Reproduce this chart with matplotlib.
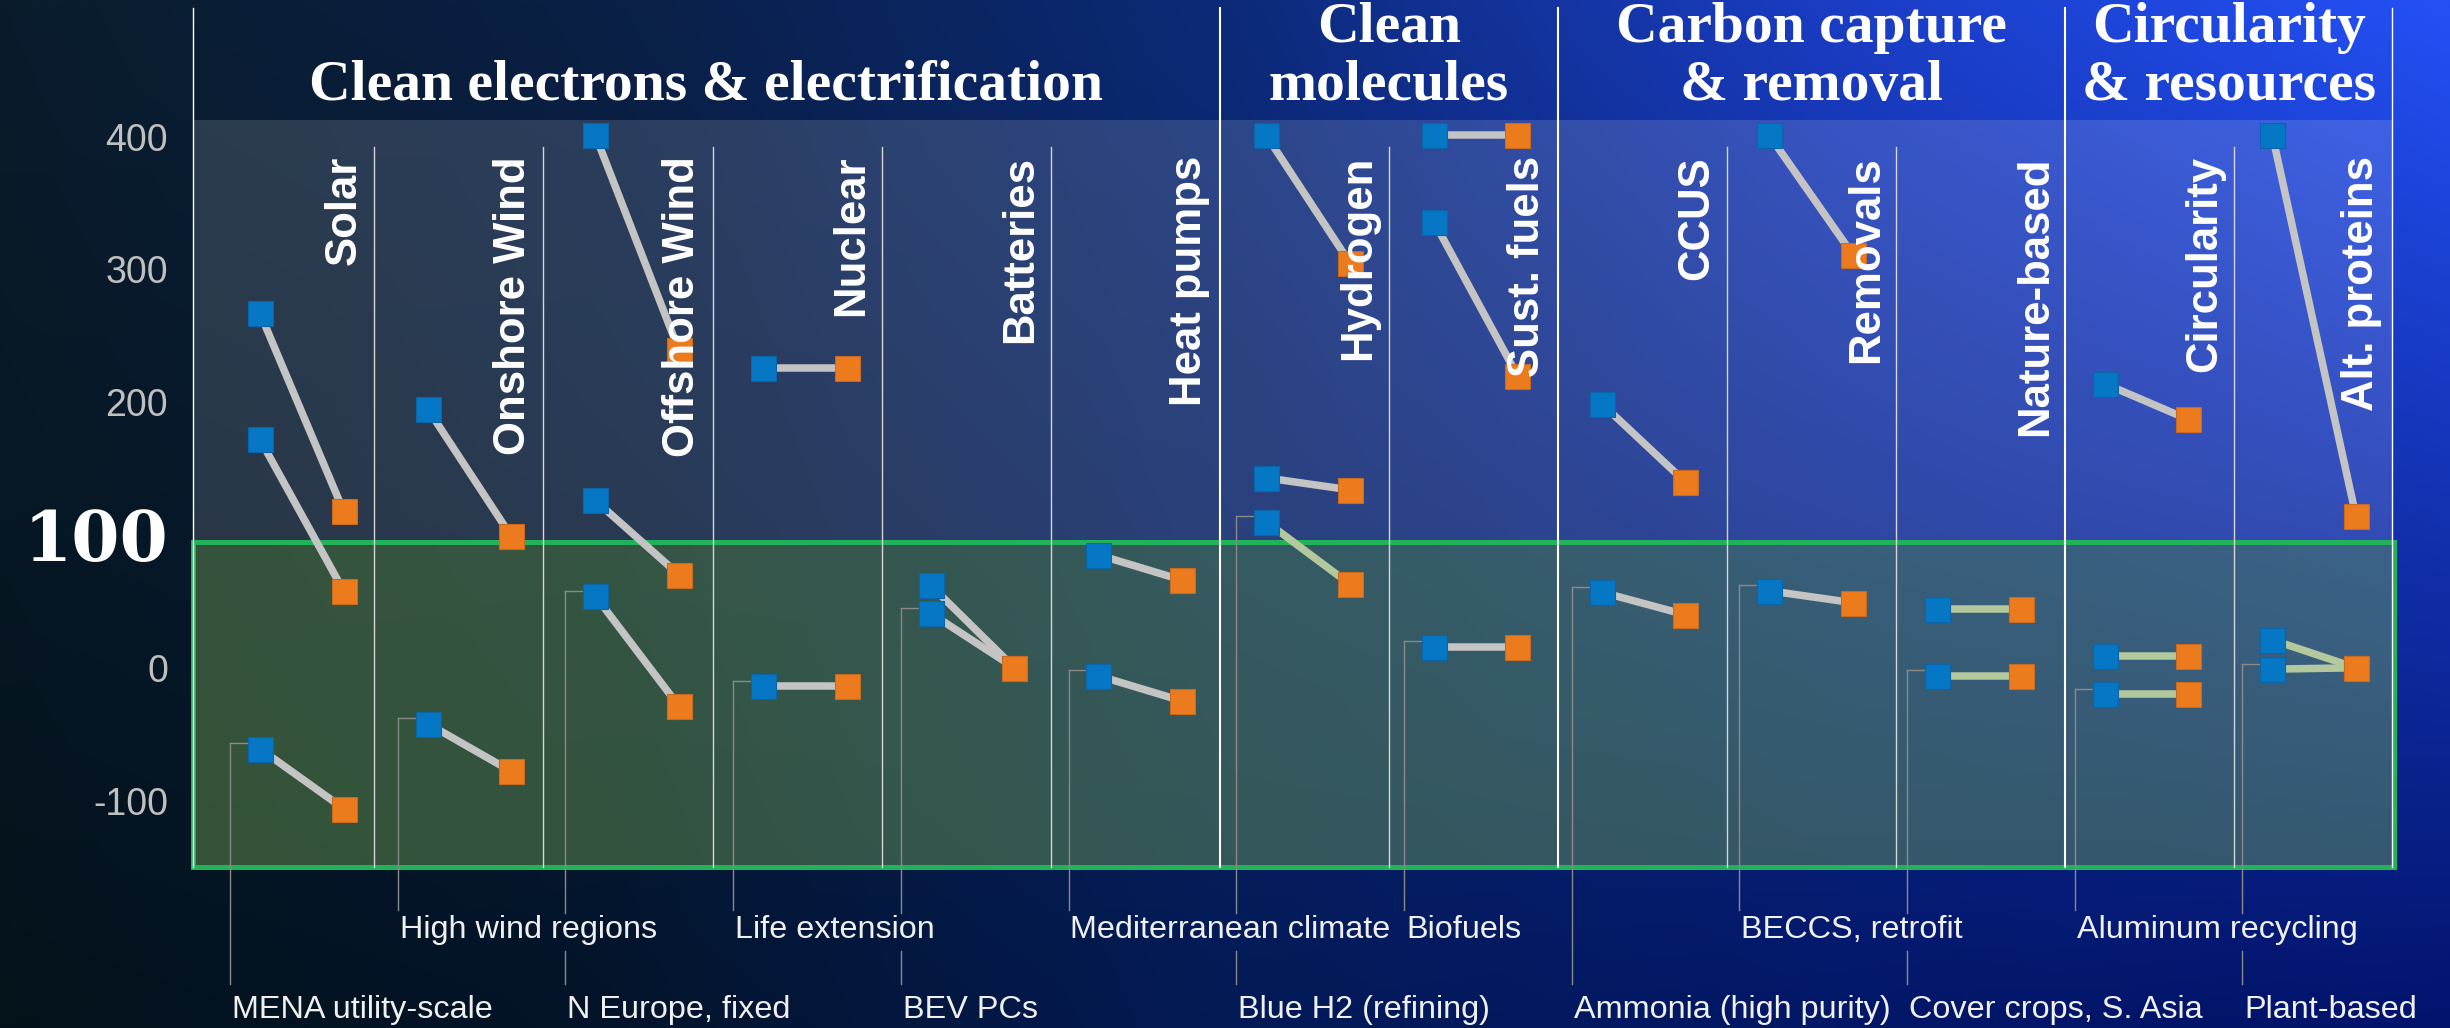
import numpy as np
import matplotlib
matplotlib.use("Agg")
import matplotlib.pyplot as plt
from matplotlib.patches import Rectangle
from matplotlib.transforms import blended_transform_factory
from matplotlib.colors import to_rgb

# ---------------- data ----------------
categories = ["Clean electrons & electrification", "Clean\nmolecules",
              "Carbon capture\n& removal", "Circularity\n& resources"]
category_sizes = [6, 2, 3, 2]
technologies = ["Solar", "Onshore Wind", "Offshore Wind", "Nuclear", "Batteries",
                "Heat pumps", "Hydrogen", "Sust. fuels", "CCUS", "Removals",
                "Nature-based", "Circularity", "Alt. proteins"]
start_values = [[267, 172, -61], [195, -42], [401, 126, 54], [226, -14], [62, 41],
                [85, -6], [401, 143, 110], [401, 336, 16], [199, 57], [401, 58],
                [44, -6], [214, 9, -20], [401, 21, -1]]
end_values = [[118, 58, -106], [99, -78], [239, 70, -29], [226, -14], [0, 0],
              [66, -25], [305, 134, 63], [401, 220, 16], [140, 40], [311, 49],
              [44, -6], [187, 9, -20], [114, 0, 0]]
example_labels = ["MENA utility-scale", "High wind regions", "N Europe, fixed",
                  "Life extension", "BEV PCs", "Mediterranean climate",
                  "Blue H2 (refining)", "Biofuels", "Ammonia (high purity)",
                  "BECCS, retrofit", "Cover crops, S. Asia", "Aluminum recycling",
                  "Plant-based"]
example_series = [2, 1, 2, 1, 1, 1, 2, 2, 1, 1, 1, 2, 2]
y_ticks = [-100, 0, 100, 200, 300, 400]
y_tick_labels = ["-100", "0", "100", "200", "300", "400"]
y_min, y_max = -150, 412.5
zone_low, zone_high = -150, 95

# ---------------- style / layout ----------------
W, H, DPI = 2450, 1028, 100
AX_L, AX_R, AX_T, AX_B = 193, 2392, 120, 867
FIRST_BLUE, PANEL_PX, PAIR_PX = 260.0, 167.7, 83.6
SEP0, SEP_STEP = 374.3, 169.1
BLUE, ORANGE = "#0577c5", "#ec7b1e"
LINK_GRAY, LINK_GREEN = "#c4c4c4", "#b3c89c"
green_links = {(6, 2), (10, 0), (10, 1), (11, 1), (11, 2), (12, 1), (12, 2)}

def xd(px):
    return (px - FIRST_BLUE) / PANEL_PX

def yd(px):
    return y_min + (AX_B - px) / (AX_B - AX_T) * (y_max - y_min)

def fy(px):
    return 1 - px / H

fig = plt.figure(figsize=(W / DPI, H / DPI), dpi=DPI)

# background gradient
bg = fig.add_axes([0, 0, 1, 1], zorder=0)
bg.set_axis_off()
xs = np.array([0, 0.25, 0.5, 0.75, 1.0])
top = np.array([to_rgb(c) for c in ["#0a1c2c", "#0a2046", "#0c2a78", "#1a3dc4", "#2450f6"]])
bot = np.array([to_rgb(c) for c in ["#04121a", "#03142a", "#031a55", "#021766", "#02136c"]])
gx = np.linspace(0, 1, 400)
gy = np.linspace(0, 1, 200)[:, None, None]
top_row = np.stack([np.interp(gx, xs, top[:, k]) for k in range(3)], axis=-1)[None]
bot_row = np.stack([np.interp(gx, xs, bot[:, k]) for k in range(3)], axis=-1)[None]
img = top_row * (1 - gy) + bot_row * gy
bg.imshow(img, aspect="auto", extent=[0, 1, 0, 1], origin="upper", interpolation="bilinear")
bg.set_xlim(0, 1)
bg.set_ylim(0, 1)

ax = fig.add_axes([AX_L / W, 1 - AX_B / H, (AX_R - AX_L) / W, (AX_B - AX_T) / H], zorder=1)
ax.set_facecolor((1, 1, 1, 0.14))
ax.set_xlim(xd(AX_L), xd(AX_R))
ax.set_ylim(y_min, y_max)
for s in ax.spines.values():
    s.set_visible(False)
ax.set_xticks([])
ax.set_yticks(y_ticks, y_tick_labels)
ax.tick_params(axis="y", length=0, pad=18, labelsize=27, labelcolor="#c0c0c0")
for lab in ax.get_yticklabels():
    lab.set_fontfamily("Liberation Sans")
    if lab.get_text() == "100":
        lab.set_fontfamily("DejaVu Serif")
        lab.set_fontweight("bold")
        lab.set_fontsize(50)
        lab.set_color("white")

tr_fig = blended_transform_factory(ax.transData, fig.transFigure)

# green zone
zone = Rectangle((xd(AX_L), zone_low), xd(AX_R + 2) - xd(AX_L), zone_high - zone_low,
                 facecolor=(81 / 255, 151 / 255, 35 / 255, 0.30), edgecolor="#22b35a",
                 lw=3.6, zorder=1.5, clip_on=False)
ax.add_patch(zone)

# separators
seps = [SEP0 + SEP_STEP * k for k in range(12)]
cat_bounds_idx = np.cumsum(category_sizes)[:-1] - 1
for k, sx in enumerate(seps):
    if k in cat_bounds_idx:
        ax.plot([xd(sx)] * 2, [yd(867), yd(8)], color="white", lw=1.5, zorder=2, clip_on=False)
    else:
        ax.plot([xd(sx)] * 2, [yd(867), yd(147)], color="#d6d6d6", lw=1.0, zorder=2, clip_on=False)
for ex in (AX_L, AX_R):
    ax.plot([xd(ex)] * 2, [yd(867), yd(8)], color="white", lw=1.0, zorder=2, clip_on=False)

# links and markers
gap = PAIR_PX / PANEL_PX
for i, (sv, ev) in enumerate(zip(start_values, end_values)):
    for k, (s, e) in enumerate(zip(sv, ev)):
        col = LINK_GREEN if (i, k) in green_links else LINK_GRAY
        ax.plot([i, i + gap], [s, e], color=col, lw=5.4, solid_capstyle="butt", zorder=3)
    for k, (s, e) in enumerate(zip(sv, ev)):
        ax.plot([i], [s], "s", ms=18, mfc=BLUE, mec="#0a66a8", mew=0.8, zorder=4, clip_on=False)
        ax.plot([i + gap], [e], "s", ms=18, mfc=ORANGE, mec="#c86a20", mew=0.8, zorder=4, clip_on=False)

# technology labels (rotated)
rights = seps + [AX_R]
for i, name in enumerate(technologies):
    ax.text(xd(rights[i] - 30), yd(156), name, rotation=90, ha="center", va="top",
            fontsize=31.5, fontweight="bold", color="white", family="Liberation Sans",
            zorder=6, clip_on=False)

# category headers
bounds = [AX_L] + [seps[j] for j in cat_bounds_idx] + [AX_R]
for c, name in enumerate(categories):
    cx = xd((bounds[c] + bounds[c + 1]) / 2)
    for j, line in enumerate(reversed(name.split("\n"))):
        ax.text(cx, fy(100 - 58 * j), line, transform=tr_fig, ha="center", va="baseline",
                fontsize=41.5, fontweight="bold", color="white", family="Liberation Serif",
                zorder=6, clip_on=False)

# example labels with leader lines
top_texts = []
bottom_items = []
for i, lab in enumerate(example_labels):
    y0 = start_values[i][example_series[i]] + 4
    lx = i - 30 / PANEL_PX
    ax.plot([lx, i - 12 / PANEL_PX], [y0, y0], color="#8a8a8a", lw=1.0, zorder=2.5, clip_on=False)
    if i % 2 == 1:
        ax.plot([lx, lx], [y0, yd(910)], color="#8a8a8a", lw=1.0, zorder=2.5, clip_on=False)
        t = ax.text(lx + 2 / PANEL_PX, fy(938), lab, transform=tr_fig, ha="left", va="baseline",
                    fontsize=23.3, color="#f0f0f0", family="Liberation Sans", clip_on=False)
        top_texts.append(t)
    else:
        ax.text(lx + 2 / PANEL_PX, fy(1018), lab, transform=tr_fig, ha="left", va="baseline",
                fontsize=23.3, color="#f0f0f0", family="Liberation Sans", clip_on=False)
        bottom_items.append((lx, y0))

fig.canvas.draw()
renderer = fig.canvas.get_renderer()
spans = [t.get_window_extent(renderer) for t in top_texts]
for lx, y0 in bottom_items:
    px = ax.transData.transform((lx, 0))[0]
    overlap = any(b.x0 - 4 <= px <= b.x1 + 4 for b in spans)
    if overlap:
        ax.plot([lx, lx], [y0, yd(913)], color="#8a8a8a", lw=1.0, zorder=2.5, clip_on=False)
        ax.plot([lx, lx], [yd(951), yd(984)], color="#8a8a8a", lw=1.0, zorder=2.5, clip_on=False)
    else:
        ax.plot([lx, lx], [y0, yd(984)], color="#8a8a8a", lw=1.0, zorder=2.5, clip_on=False)

fig.savefig("out.png", dpi=DPI)
